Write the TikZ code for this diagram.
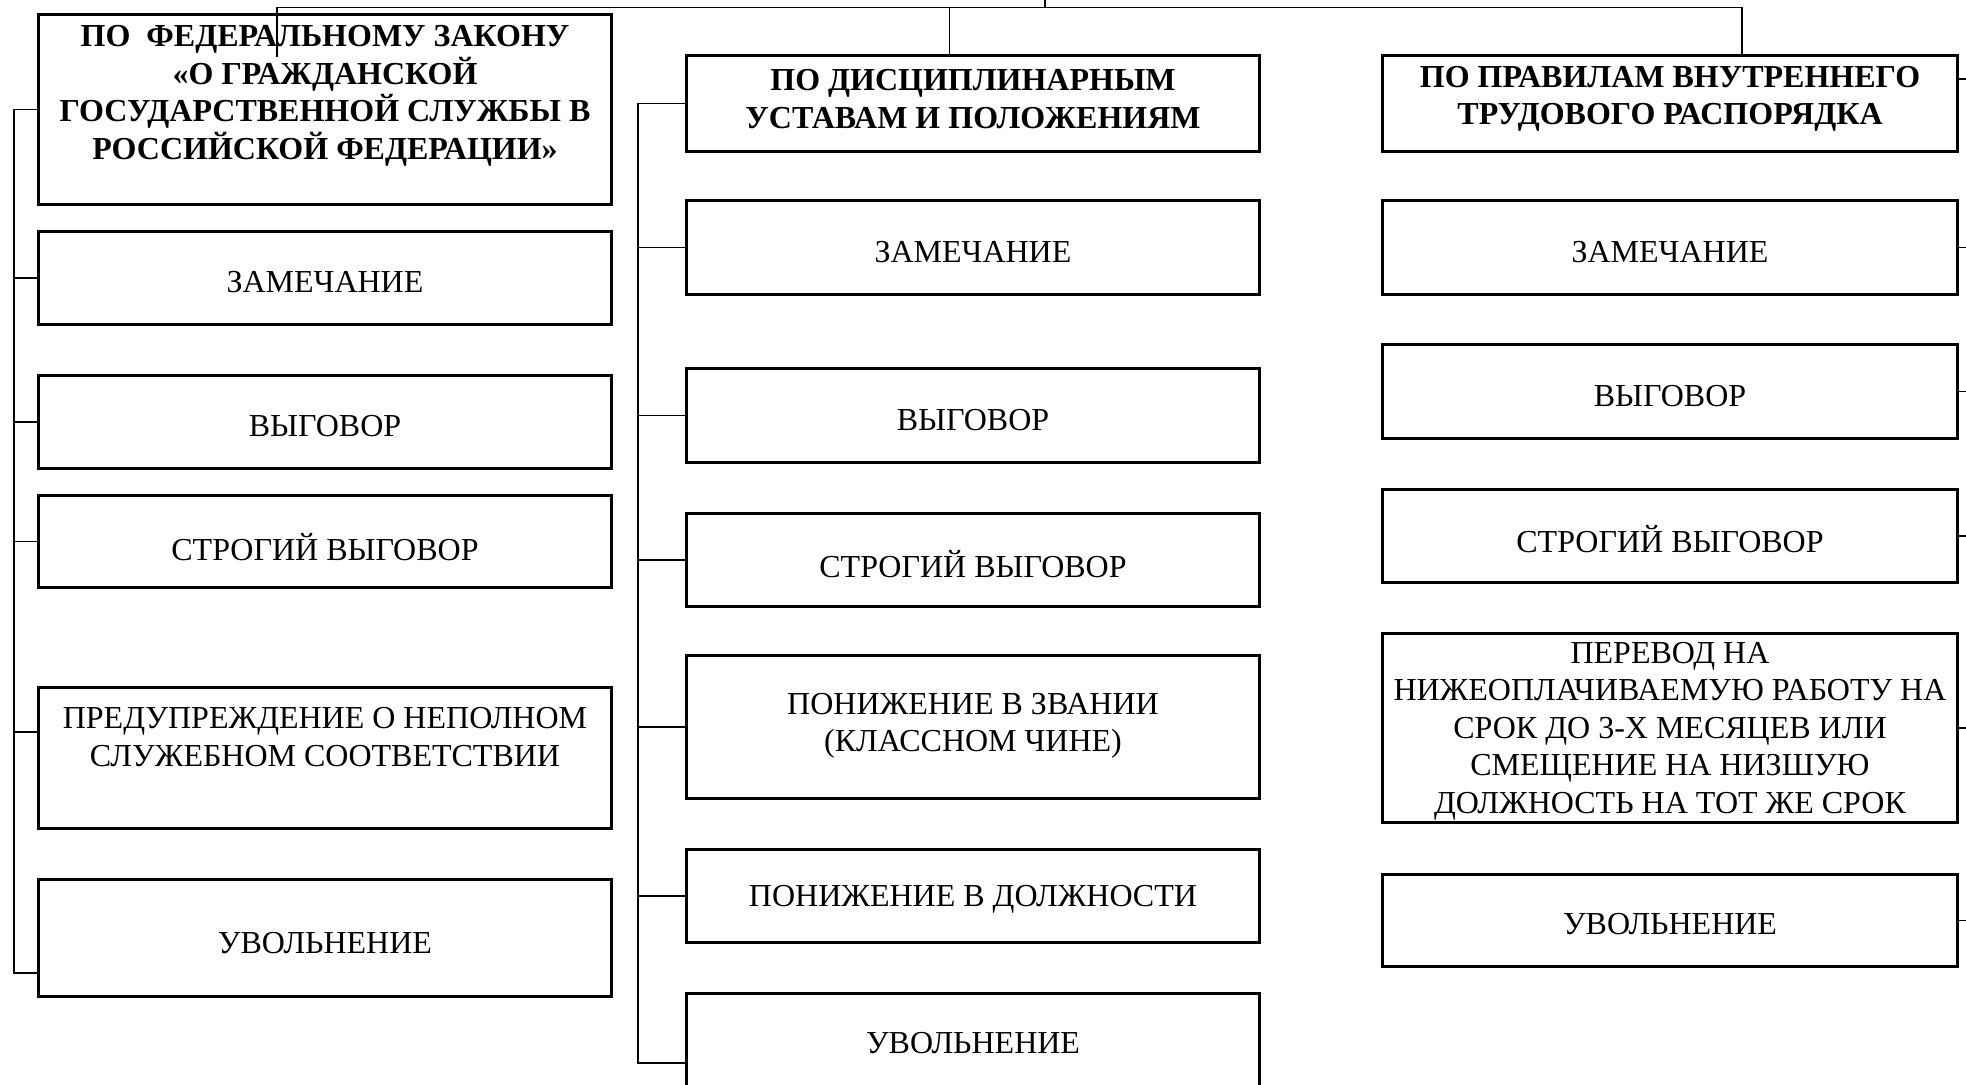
\documentclass[tikz,border=0pt]{standalone}
\usepackage{fontspec}
\setmainfont{Liberation Serif}
\begin{document}
\begin{tikzpicture}[x=0.5pt,y=-0.5pt,
  box/.style={draw, line width=1.6pt, rectangle, inner sep=0pt},
  lbox/.style={box, minimum width=286.5pt},
  mbox/.style={box, minimum width=286.5pt},
  rbox/.style={box, minimum width=287.5pt},
  txt/.style={inner sep=0pt, align=center, font=\fontsize{16}{18.75}\selectfont},
  head/.style={inner sep=0pt, align=center, font=\fontsize{16}{18.75}\selectfont\bfseries},
  conn/.style={line width=0.65pt}]
\useasboundingbox (0,0) rectangle (1966,1085);
\fill[white] (0,0) rectangle (1966,1085);
\clip (0,0) rectangle (1966,1085);

% ---------- left column ----------
\node[lbox, minimum height=95pt]   (l1) at (325,109.5) {};
\node[lbox, minimum height=46.5pt] (l2) at (325,278) {};
\node[lbox, minimum height=46.5pt] (l3) at (325,422) {};
\node[lbox, minimum height=46pt]   (l4) at (325,541.5) {};
\node[lbox, minimum height=70.5pt] (l5) at (325,758) {};
\node[lbox, minimum height=58.5pt] (l6) at (325,938) {};
\node[head] (l1t) at (325,96) {ПО\ \ ФЕДЕРАЛЬНОМУ ЗАКОНУ\\«О ГРАЖДАНСКОЙ\\ГОСУДАРСТВЕННОЙ СЛУЖБЫ В\\РОССИЙСКОЙ ФЕДЕРАЦИИ»};
\node[txt] (l2t) at (325,282) {ЗАМЕЧАНИЕ};
\node[txt] (l3t) at (325,426) {ВЫГОВОР};
\node[txt] (l4t) at (325,547) {СТРОГИЙ ВЫГОВОР};
\node[txt] (l5t) at (325,737) {ПРЕДУПРЕЖДЕНИЕ О НЕПОЛНОМ\\СЛУЖЕБНОМ СООТВЕТСТВИИ};
\node[txt] (l6t) at (325,943) {УВОЛЬНЕНИЕ};

% ---------- middle column ----------
\node[mbox, minimum height=48pt]   (m1) at (973,103.5) {};
\node[mbox, minimum height=47pt]   (m2) at (973,247.5) {};
\node[mbox, minimum height=47pt]   (m3) at (973,415.5) {};
\node[mbox, minimum height=46.5pt] (m4) at (973,560) {};
\node[mbox, minimum height=71.5pt] (m5) at (973,727) {};
\node[mbox, minimum height=46.5pt] (m6) at (973,896) {};
\node[mbox, minimum height=69.5pt] (m7) at (973,1063) {};
\node[head] (m1t) at (973,99) {ПО ДИСЦИПЛИНАРНЫМ\\УСТАВАМ И ПОЛОЖЕНИЯМ};
\node[txt] (m2t) at (973,252) {ЗАМЕЧАНИЕ};
\node[txt] (m3t) at (973,420) {ВЫГОВОР};
\node[txt] (m4t) at (973,564) {СТРОГИЙ ВЫГОВОР};
\node[txt] (m5t) at (973,726) {ПОНИЖЕНИЕ В ЗВАНИИ\\(КЛАССНОМ ЧИНЕ)};
\node[txt] (m6t) at (973,899) {ПОНИЖЕНИЕ В ДОЛЖНОСТИ};
\node[txt] (m7t) at (973,1043) {УВОЛЬНЕНИЕ};

% ---------- right column ----------
\node[rbox, minimum height=48pt]   (r1) at (1670,103.5) {};
\node[rbox, minimum height=47pt]   (r2) at (1670,247.5) {};
\node[rbox, minimum height=47pt]   (r3) at (1670,391.5) {};
\node[rbox, minimum height=46.5pt] (r4) at (1670,536) {};
\node[rbox, minimum height=94.5pt] (r5) at (1670,728) {};
\node[rbox, minimum height=46pt]   (r6) at (1670,920.5) {};
\node[head] (r1t) at (1670,99) {ПО ПРАВИЛАМ ВНУТРЕННЕГО\\ТРУДОВОГО РАСПОРЯДКА};
\node[txt] (r2t) at (1670,252) {ЗАМЕЧАНИЕ};
\node[txt] (r3t) at (1670,396) {ВЫГОВОР};
\node[txt] (r4t) at (1670,539) {СТРОГИЙ ВЫГОВОР};
\node[txt] (r5t) at (1670,731) {ПЕРЕВОД НА\\НИЖЕОПЛАЧИВАЕМУЮ РАБОТУ НА\\СРОК ДО 3-Х МЕСЯЦЕВ ИЛИ\\СМЕЩЕНИЕ НА НИЗШУЮ\\ДОЛЖНОСТЬ НА ТОТ ЖЕ СРОК};
\node[txt] (r6t) at (1670,924) {УВОЛЬНЕНИЕ};

% ---------- connectors ----------
\coordinate (bus)  at (0,7.5);
\coordinate (root) at (1045,-20);
\coordinate (ltap) at (277,57);
\coordinate (lbus) at (14,0);
\coordinate (mbus) at (638,0);
\coordinate (rbus) at (1980,0);

% top bus
\draw[conn] (ltap) -- (ltap |- bus) -| ([xshift=36pt]r1.north);
\draw[conn] ([xshift=-11.75pt]m1.north) -- ([xshift=-11.75pt]m1.north |- bus);
\draw[conn] (root) -- (root |- bus);

% left bracket
\draw[conn] (l1.west) -| ([yshift=-17.5pt]l6.west -| lbus) -- ([yshift=-17.5pt]l6.west);
\draw[conn] (l2.west) -- (l2.west -| lbus);
\draw[conn] (l3.west) -- (l3.west -| lbus);
\draw[conn] (l4.west) -- (l4.west -| lbus);
\draw[conn] ([yshift=13pt]l5.west) -- ([yshift=13pt]l5.west -| lbus);

% middle bracket
\draw[conn] (m1.west) -| (m7.west -| mbus) -- (m7.west);
\draw[conn] (m2.west) -- (m2.west -| mbus);
\draw[conn] (m3.west) -- (m3.west -| mbus);
\draw[conn] (m4.west) -- (m4.west -| mbus);
\draw[conn] (m5.west) -- (m5.west -| mbus);
\draw[conn] (m6.west) -- (m6.west -| mbus);

% right stubs (bracket lies beyond the frame)
\draw[conn] ([yshift=12.25pt]r1.east) -- ([yshift=12.25pt]r1.east -| rbus);
\draw[conn] (r2.east) -- (r2.east -| rbus);
\draw[conn] (r3.east) -- (r3.east -| rbus);
\draw[conn] (r4.east) -- (r4.east -| rbus);
\draw[conn] (r5.east) -- (r5.east -| rbus);
\draw[conn] (r6.east) -- (r6.east -| rbus);
\end{tikzpicture}
\end{document}
